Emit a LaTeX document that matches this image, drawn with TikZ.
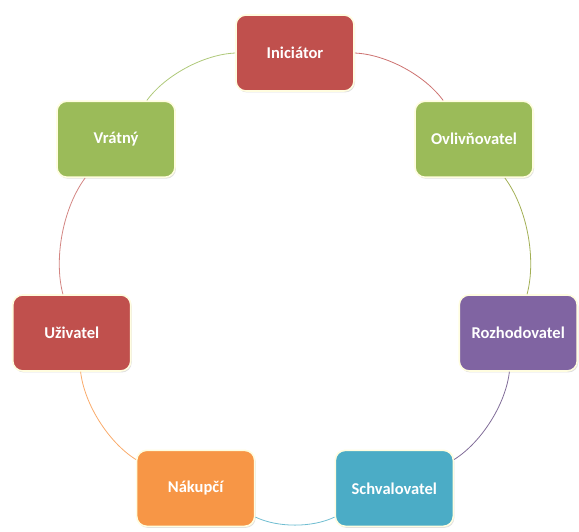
\documentclass[tikz,border=0pt]{standalone}
\usepackage{fontspec}
\setmainfont{Carlito}
\usetikzlibrary{shadows}
\definecolor{rolered}{HTML}{C0504D}
\definecolor{rolegreen}{HTML}{9BBB59}
\definecolor{rolepurple}{HTML}{8064A2}
\definecolor{roleblue}{HTML}{4BACC6}
\definecolor{roleorange}{HTML}{F79646}
\tikzset{role/.style={rectangle,rounded corners=10pt,draw=white!88!yellow,line width=1.6pt,
  minimum width=118pt,minimum height=76pt,text=white,font=\fontsize{16.5}{19}\selectfont\bfseries,
  drop shadow={opacity=.25,shadow xshift=1pt,shadow yshift=-1.5pt}},
  link/.style={line width=.8pt,bend left=25.7,looseness=.8}}
\begin{document}
\begin{tikzpicture}[x=1pt,y=1pt]
\useasboundingbox (0,0) rectangle (579,531);
\coordinate (c) at (295,249);
% the seven roles round the circle
\draw (c) ++(90:229) node[role,fill=rolered] (ini) {Iniciátor};
\draw (c) ++(38.57:229) node[role,fill=rolegreen] (ovl) {Ovlivňovatel};
\draw (c) ++(-12.86:229) node[role,fill=rolepurple] (roz) {Rozhodovatel};
\draw (c) ++(-64.29:229) node[role,fill=roleblue] (sch) {Schvalovatel};
\draw (c) ++(-115.71:229) node[role,fill=roleorange] (nak) {Nákupčí};
\draw (c) ++(-167.14:229) node[role,fill=rolered] (uzi) {Uživatel};
\draw (c) ++(141.43:229) node[role,fill=rolegreen] (vra) {Vrátný};
% arcs between them
\draw[link,rolered!80] (ini) to (ovl);
\draw[link,rolegreen!80!brown] (ovl) to (roz);
\draw[link,rolepurple!70!gray] (roz) to (sch);
\draw[link,roleblue!80] (sch) to (nak);
\draw[link,roleorange!80] (nak) to (uzi);
\draw[link,rolered!70] (uzi) to (vra);
\draw[link,rolegreen!80] (vra) to (ini);
\end{tikzpicture}
\end{document}
